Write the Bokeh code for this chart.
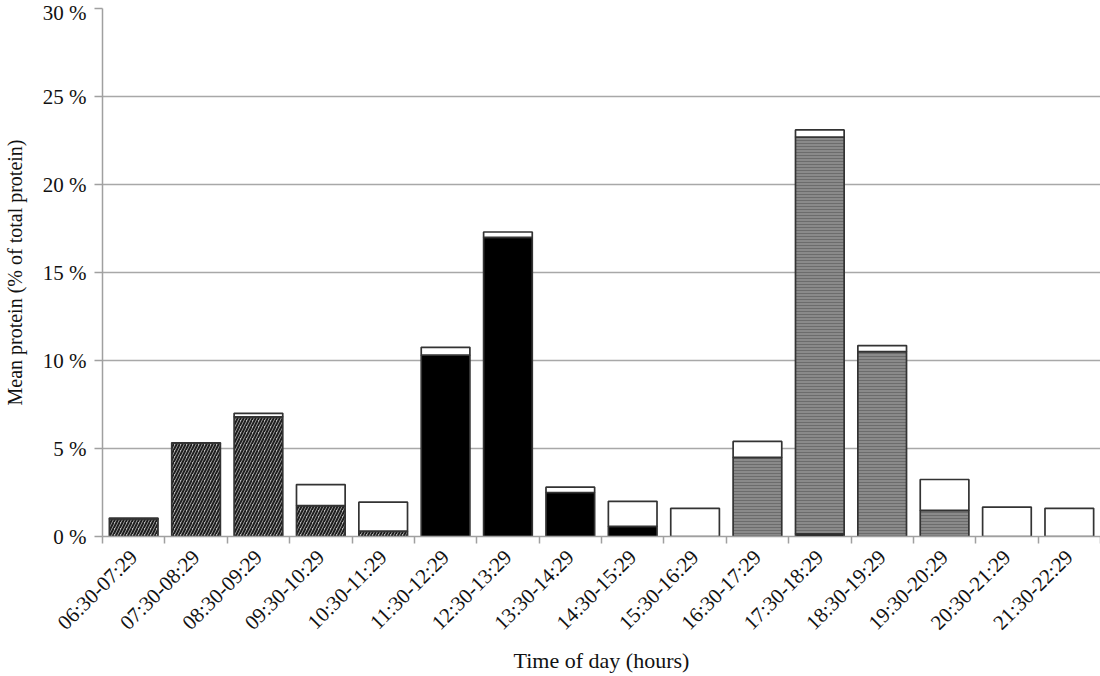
from bokeh.plotting import figure
from bokeh.models import ColumnDataSource, Range1d, FixedTicker, PrintfTickFormatter
from bokeh.embed import file_html
from bokeh.resources import INLINE

categories = ["06:30-07:29", "07:30-08:29", "08:30-09:29", "09:30-10:29", "10:30-11:29",
              "11:30-12:29", "12:30-13:29", "13:30-14:29", "14:30-15:29", "15:30-16:29",
              "16:30-17:29", "17:30-18:29", "18:30-19:29", "19:30-20:29", "20:30-21:29",
              "21:30-22:29"]
breakfast = [1.0, 5.3, 6.8, 1.75, 0.3, 0, 0, 0, 0, 0, 0, 0, 0, 0, 0, 0]
lunch = [0, 0, 0, 0, 0, 10.3, 17.0, 2.5, 0.58, 0, 0, 0.15, 0, 0, 0, 0]
dinner = [0, 0, 0, 0, 0, 0, 0, 0, 0, 0, 4.5, 22.55, 10.5, 1.48, 0, 0]
snacks = [0.05, 0.02, 0.2, 1.2, 1.65, 0.45, 0.3, 0.3, 1.42, 1.6, 0.9, 0.4, 0.35, 1.76, 1.67, 1.6]
y_ticks = [0, 5, 10, 15, 20, 25, 30]

FONT = "Liberation Serif"
n = len(categories)
xs = list(range(n))

p = figure(frame_width=998, frame_height=528, output_backend="svg", toolbar_location=None,
           x_range=Range1d(-0.5, n - 0.5), y_range=Range1d(0, 30),
           min_border_left=102, min_border_right=0, min_border_top=8, min_border_bottom=10)
p.outline_line_color = None
p.background_fill_color = "white"

series = [
    ("breakfast", breakfast, dict(fill_color="#b8b8b8", hatch_pattern="/", hatch_color="#1e1e1e",
                                  hatch_scale=6, hatch_weight=2)),
    ("lunch", lunch, dict(fill_color="black")),
    ("dinner", dinner, dict(fill_color="#8a8a8a", hatch_pattern="-", hatch_color="#6c6c6c",
                            hatch_scale=3, hatch_weight=1)),
    ("snacks", snacks, dict(fill_color="white")),
]

bottom = [0.0] * n
for name, vals, style in series:
    top = [b + v for b, v in zip(bottom, vals)]
    keep = [i for i in range(n) if vals[i] > 0]
    src = ColumnDataSource(dict(x=[xs[i] for i in keep], bottom=[bottom[i] for i in keep],
                                top=[top[i] for i in keep]))
    p.vbar(x="x", bottom="bottom", top="top", width=0.78, source=src,
           line_color="#333333", line_width=1.7, **style)
    bottom = top

# axes
p.xaxis.ticker = FixedTicker(ticks=xs, minor_ticks=[i - 0.5 for i in range(n + 1)])
p.xaxis.major_label_overrides = {i: c for i, c in enumerate(categories)}
p.xaxis.major_label_orientation = 0.785398
p.xaxis.major_tick_out = 0
p.xaxis.major_tick_in = 0
p.xaxis.minor_tick_out = 7
p.xaxis.minor_tick_in = 0
p.xaxis.minor_tick_line_color = "#a0a0a0"
p.xaxis.minor_tick_line_width = 1.5
p.xaxis.axis_line_color = "#a0a0a0"
p.xaxis.axis_line_width = 1.5
p.xaxis.axis_label = "Time of day (hours)"

p.yaxis.ticker = FixedTicker(ticks=y_ticks)
p.yaxis.formatter = PrintfTickFormatter(format="%d %%")
p.yaxis.major_tick_out = 8
p.yaxis.major_tick_in = 0
p.yaxis.minor_tick_line_color = None
p.yaxis.major_tick_line_color = "#a0a0a0"
p.yaxis.major_tick_line_width = 1.5
p.yaxis.axis_line_color = "#a0a0a0"
p.yaxis.axis_line_width = 1.5
p.yaxis.axis_label = "Mean protein (% of total protein)"

for ax in (p.xaxis, p.yaxis):
    ax.major_label_text_font = FONT
    ax.major_label_text_font_size = "21px"
    ax.major_label_text_color = "#111111"
    ax.axis_label_text_font = FONT
    ax.axis_label_text_font_style = "normal"
    ax.axis_label_text_color = "#111111"
p.xaxis.axis_label_text_font_size = "22px"
p.yaxis.axis_label_text_font_size = "20px"
p.xaxis.major_label_standoff = 10
p.yaxis.major_label_standoff = 8
p.xaxis.axis_label_standoff = 2
p.yaxis.axis_label_standoff = 14

p.xgrid.grid_line_color = None
p.ygrid.grid_line_color = "#a8a8a8"
p.ygrid.grid_line_width = 1.5

open("out.html", "w").write(file_html(p, INLINE))
